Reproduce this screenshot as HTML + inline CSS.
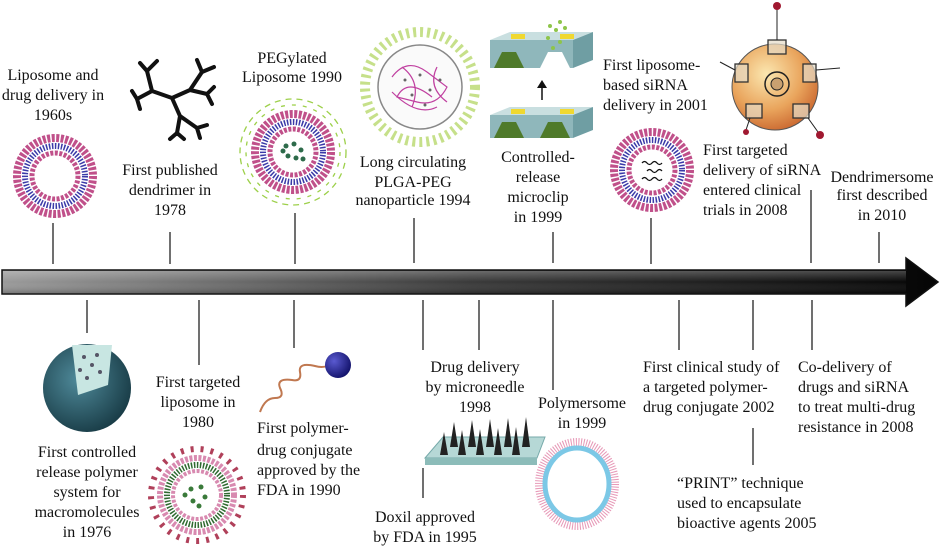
<!DOCTYPE html>
<html><head><meta charset="utf-8"><style>
html,body{margin:0;padding:0;background:#fff;}
svg{display:block;}
text{font-family:"Liberation Serif","Times New Roman","Noto Serif CJK SC","DejaVu Serif",serif;font-size:16px;fill:#111;}
</style></head><body>
<svg width="940" height="548" viewBox="0 0 940 548" xmlns="http://www.w3.org/2000/svg">
<defs>
<linearGradient id="bar" x1="0" x2="1" y1="0" y2="0">
<stop offset="0" stop-color="#9a9a9a"/><stop offset="0.5" stop-color="#3a3a3a"/><stop offset="1" stop-color="#050505"/>
</linearGradient>
<linearGradient id="barv" x1="0" x2="0" y1="0" y2="1">
<stop offset="0" stop-color="#fff" stop-opacity="0.25"/><stop offset="0.5" stop-color="#fff" stop-opacity="0"/><stop offset="1" stop-color="#000" stop-opacity="0.2"/>
</linearGradient>
<radialGradient id="orange" cx="0.4" cy="0.35" r="0.7">
<stop offset="0" stop-color="#fbe7b0"/><stop offset="0.6" stop-color="#e9a45c"/><stop offset="1" stop-color="#c9652e"/>
</radialGradient>
<radialGradient id="teal" cx="0.4" cy="0.4" r="0.7">
<stop offset="0" stop-color="#4f8a9a"/><stop offset="1" stop-color="#14353f"/>
</radialGradient>
<radialGradient id="ball" cx="0.35" cy="0.35" r="0.7">
<stop offset="0" stop-color="#5a5ad0"/><stop offset="1" stop-color="#12126a"/>
</radialGradient>
</defs>

<polygon points="2,270 906,270 906,258 938,282 906,306 906,294 2,294" fill="url(#bar)" stroke="#111" stroke-width="1.5"/>
<rect x="3" y="271" width="903" height="22" fill="url(#barv)"/>

<g stroke="#222" stroke-width="1.3">
<line x1="53" y1="223" x2="53" y2="264"/>
<line x1="170" y1="232" x2="170" y2="264"/>
<line x1="295" y1="213" x2="295" y2="264"/>
<line x1="414" y1="218" x2="414" y2="263"/>
<line x1="553" y1="232" x2="553" y2="263"/>
<line x1="651" y1="218" x2="651" y2="264"/>
<line x1="811" y1="190" x2="811" y2="263"/>
<line x1="879" y1="232" x2="879" y2="263"/>
<line x1="87" y1="300" x2="87" y2="333"/>
<line x1="199" y1="300" x2="199" y2="365"/>
<line x1="294" y1="300" x2="294" y2="348"/>
<line x1="423" y1="300" x2="423" y2="350"/>
<line x1="479" y1="300" x2="479" y2="350"/>
<line x1="553" y1="300" x2="553" y2="390"/>
<line x1="679" y1="300" x2="679" y2="350"/>
<line x1="753" y1="300" x2="753" y2="350"/>
<line x1="812" y1="300" x2="812" y2="350"/>
<line x1="753" y1="428" x2="753" y2="465"/>
<line x1="423" y1="468" x2="423" y2="498"/>
</g>

<circle cx="55" cy="176" r="38" fill="none" stroke="#c0508a" stroke-width="8" stroke-dasharray="3 1.5"/>
<circle cx="55" cy="176" r="30" fill="none" stroke="#3a3aa8" stroke-width="6" stroke-dasharray="1.5 1.5"/>
<circle cx="55" cy="176" r="23" fill="none" stroke="#c0508a" stroke-width="5" stroke-dasharray="3 1.5"/>

<g stroke="#111" stroke-width="4" fill="none" stroke-linecap="round">
<path d="M172 98 L190 90 L202 72 M190 90 L207 94 M172 98 L152 91 L147 71 M152 91 L137 99 M172 98 L180 116 L197 128 M180 116 L177 133"/>
<path d="M202 72 L197 60 M202 72 L214 67 M207 94 L214 87 M207 94 L212 104 M147 71 L140 63 M147 71 L157 61 M137 99 L132 91 M137 99 L140 109 M197 128 L207 125 M197 128 L200 138 M177 133 L170 139 M177 133 L184 139"/>
</g>

<g stroke="#9dd04a" stroke-width="1.3" fill="none">
<circle cx="293" cy="152" r="53" stroke-dasharray="6 5"/>
<circle cx="293" cy="152" r="47" stroke-dasharray="4 7"/>
</g>
<circle cx="293" cy="152" r="38" fill="none" stroke="#c0508a" stroke-width="8" stroke-dasharray="3 1.5"/>
<circle cx="293" cy="152" r="30" fill="none" stroke="#3a3aa8" stroke-width="6" stroke-dasharray="1.5 1.5"/>
<circle cx="293" cy="152" r="23" fill="none" stroke="#c0508a" stroke-width="5" stroke-dasharray="3 1.5"/>
<g fill="#2d6b4a"><circle cx="286" cy="146" r="2.5"/><circle cx="294" cy="144" r="2.5"/><circle cx="301" cy="150" r="2.5"/><circle cx="288" cy="156" r="2.5"/><circle cx="296" cy="158" r="2.5"/><circle cx="283" cy="151" r="2.5"/><circle cx="303" cy="159" r="2.5"/></g>

<circle cx="420" cy="87" r="55" fill="none" stroke="#c6e08a" stroke-width="10" stroke-dasharray="3 4"/>
<circle cx="420" cy="87" r="42" fill="#fafafa" stroke="#888" stroke-width="1.5"/>
<g stroke="#c040a0" stroke-width="1.2" fill="none">
<path d="M392 77 Q407 57 427 72 T447 87 Q437 107 417 102 T397 97 Q407 77 432 97"/>
<path d="M402 67 Q422 82 412 107 M437 67 Q427 87 447 102 M392 92 Q417 117 437 107"/>
</g>
<g fill="#666"><circle cx="405" cy="80" r="1.5"/><circle cx="420" cy="75" r="1.5"/><circle cx="430" cy="90" r="1.5"/><circle cx="412" cy="95" r="1.5"/><circle cx="425" cy="105" r="1.5"/><circle cx="440" cy="80" r="1.5"/></g>

<polygon points="490,40 510,32 593,32 573,40" fill="#c9dfe0"/>
<rect x="490" y="40" width="83" height="28" fill="#8fb7bb"/>
<polygon points="573,40 593,32 593,60 573,68" fill="#6f9ea3"/>
<polygon points="494,68 502,52 516,52 524,68" fill="#4f7a2a"/>
<polygon points="540,68 548,52 562,52 570,68" fill="#fff"/>
<g fill="#8ec54a"><circle cx="550" cy="26" r="2"/><circle cx="556" cy="30" r="2"/><circle cx="548" cy="38" r="2"/><circle cx="560" cy="42" r="2"/><circle cx="565" cy="28" r="2"/><circle cx="553" cy="48" r="2"/><circle cx="560" cy="22" r="2"/></g>
<rect x="511" y="34" width="14" height="5" fill="#f0d830"/><rect x="560" y="34" width="14" height="5" fill="#f0d830"/>
<line x1="542" y1="100" x2="542" y2="86" stroke="#111" stroke-width="1.5"/>
<polygon points="537,88 542,80 547,88" fill="#111"/>
<polygon points="490,115 510,107 593,107 573,115" fill="#c9dfe0"/>
<rect x="490" y="115" width="83" height="23" fill="#8fb7bb"/>
<polygon points="573,115 593,107 593,130 573,138" fill="#6f9ea3"/>
<polygon points="494,138 502,122 516,122 524,138" fill="#4f7a2a"/>
<polygon points="540,138 548,122 562,122 570,138" fill="#4f7a2a"/>
<rect x="511" y="109" width="14" height="5" fill="#f0d830"/><rect x="560" y="109" width="14" height="5" fill="#f0d830"/>

<circle cx="652" cy="170" r="38" fill="none" stroke="#c0508a" stroke-width="8" stroke-dasharray="3 1.5"/>
<circle cx="652" cy="170" r="30" fill="none" stroke="#3a3aa8" stroke-width="6" stroke-dasharray="1.5 1.5"/>
<circle cx="652" cy="170" r="23" fill="none" stroke="#c0508a" stroke-width="5" stroke-dasharray="3 1.5"/>
<g stroke="#111" stroke-width="1.3" fill="none">
<path d="M642 163 q2.5 -3 5 0 t5 0 t5 0 t5 0"/><path d="M647 171 q2.5 -3 5 0 t5 0 t5 0"/><path d="M642 179 q2.5 -3 5 0 t5 0 t5 0 t5 0"/>
</g>

<circle cx="775" cy="87" r="43" fill="url(#orange)" stroke="#555" stroke-width="1"/>
<circle cx="777" cy="84" r="12" fill="none" stroke="#222" stroke-width="1.5"/>
<circle cx="777" cy="84" r="6" fill="#c9a070" stroke="#222"/>
<g stroke="#333" stroke-width="1.3" fill="#e6dcc8" fill-opacity="0.7">
<rect x="768" y="40" width="18" height="14"/><rect x="735" y="64" width="13" height="18"/><rect x="803" y="64" width="13" height="18"/>
<rect x="746" y="104" width="16" height="14"/><rect x="793" y="104" width="16" height="14"/>
</g>
<g stroke="#222" stroke-width="1" fill="none">
<path d="M777 40 L777 8"/><path d="M735 70 L720 62"/><path d="M816 70 L840 68"/><path d="M750 118 L746 130"/><path d="M808 118 L818 132"/>
</g>
<circle cx="777" cy="6" r="4" fill="#a01830"/><circle cx="746" cy="132" r="3" fill="#a01830"/><circle cx="820" cy="135" r="4" fill="#a01830"/>

<circle cx="87" cy="388" r="44" fill="url(#teal)"/>
<polygon points="72,345 112,345 108,385 78,395" fill="#c8e6e2"/>
<g fill="#556"><circle cx="84" cy="357" r="2"/><circle cx="92" cy="365" r="2"/><circle cx="87" cy="378" r="2"/><circle cx="97" cy="355" r="2"/><circle cx="80" cy="370" r="2"/><circle cx="100" cy="372" r="2"/></g>

<circle cx="197" cy="495" r="46" fill="none" stroke="#b0405a" stroke-width="6" stroke-dasharray="3 7"/>
<circle cx="197" cy="495" r="37" fill="none" stroke="#d88ab0" stroke-width="6" stroke-dasharray="3 1.5"/>
<circle cx="197" cy="495" r="30" fill="none" stroke="#2f6a30" stroke-width="6" stroke-dasharray="1.5 1.5"/>
<circle cx="197" cy="495" r="24" fill="none" stroke="#d88ab0" stroke-width="4" stroke-dasharray="3 1.5"/>
<g fill="#3a7a3a"><circle cx="191" cy="489" r="2.5"/><circle cx="201" cy="487" r="2.5"/><circle cx="205" cy="497" r="2.5"/><circle cx="193" cy="501" r="2.5"/><circle cx="185" cy="495" r="2.5"/><circle cx="199" cy="506" r="2.5"/></g>

<path d="M260 412 Q265 398 275 398 Q285 398 280 388 Q276 378 292 380 Q302 382 300 372 Q298 362 315 366 Q322 368 327 366" fill="none" stroke="#c07850" stroke-width="2"/>
<circle cx="338" cy="365" r="13" fill="url(#ball)"/>

<polygon points="425,458 443,437 545,437 537,458" fill="#b6d8d6" stroke="#7aa"/>
<rect x="425" y="458" width="112" height="7" fill="#8cbcb9"/>
<g fill="#222">
<polygon points="440,455 444,432 448,455"/><polygon points="458,455 462,430 466,455"/><polygon points="476,455 480,429 484,455"/><polygon points="494,455 498,428 502,455"/><polygon points="512,455 516,427 520,455"/>
<polygon points="450,447 454,422 458,447"/><polygon points="468,447 472,420 476,447"/><polygon points="486,447 490,419 494,447"/><polygon points="504,447 508,418 512,447"/><polygon points="522,447 526,417 530,447"/>
</g>

<ellipse cx="577" cy="484" rx="37" ry="41" fill="none" stroke="#e79ab8" stroke-width="10" stroke-dasharray="1 1.5"/>
<ellipse cx="577" cy="484" rx="32" ry="36" fill="none" stroke="#7cc8e6" stroke-width="5"/>

<g text-anchor="middle">
<text x="53" y="80">Liposome and</text><text x="53" y="100">drug delivery in</text><text x="53" y="120">1960s</text>
<text x="170" y="175">First published</text><text x="170" y="195">dendrimer in</text><text x="170" y="215">1978</text>
<text x="292" y="63">PEGylated</text><text x="292" y="82">Liposome 1990</text>
<text x="413" y="167">Long circulating</text><text x="413" y="187">PLGA-PEG</text><text x="413" y="205">nanoparticle 1994</text>
<text x="538" y="162">Controlled-</text><text x="538" y="182">release</text><text x="538" y="202">microclip</text><text x="538" y="222">in 1999</text>
<text x="882" y="182">Dendrimersome</text><text x="882" y="200">first described</text><text x="882" y="220">in 2010</text>
</g>
<text x="603" y="70">First liposome-</text><text x="603" y="90">based siRNA</text><text x="603" y="110">delivery in 2001</text>
<text x="703" y="155">First targeted</text><text x="703" y="175">delivery of siRNA</text><text x="703" y="195">entered clinical</text><text x="703" y="215">trials in 2008</text>

<g text-anchor="middle">
<text x="87" y="457">First controlled</text><text x="87" y="477">release polymer</text><text x="87" y="497">system for</text><text x="87" y="517">macromolecules</text><text x="87" y="537">in 1976</text>
<text x="198" y="387">First targeted</text><text x="198" y="407">liposome in</text><text x="198" y="427">1980</text>
<text x="475" y="372">Drug delivery</text><text x="475" y="392">by microneedle</text><text x="475" y="412">1998</text>
<text x="425" y="522">Doxil approved</text><text x="425" y="542">by FDA in 1995</text>
<text x="582" y="408">Polymersome</text><text x="582" y="428">in 1999</text>
</g>
<text x="257" y="433">First polymer-</text><text x="257" y="455">drug conjugate</text><text x="257" y="475">approved by the</text><text x="257" y="495">FDA in 1990</text>
<text x="643" y="372">First clinical study of</text><text x="643" y="392">a targeted polymer-</text><text x="643" y="412">drug conjugate 2002</text>
<text x="798" y="372">Co-delivery of</text><text x="798" y="392">drugs and siRNA</text><text x="798" y="412">to treat multi-drug</text><text x="798" y="432">resistance in 2008</text>
<text x="677" y="488">“PRINT” technique</text><text x="677" y="508">used to encapsulate</text><text x="677" y="528">bioactive agents 2005</text>
</svg>
</body></html>
